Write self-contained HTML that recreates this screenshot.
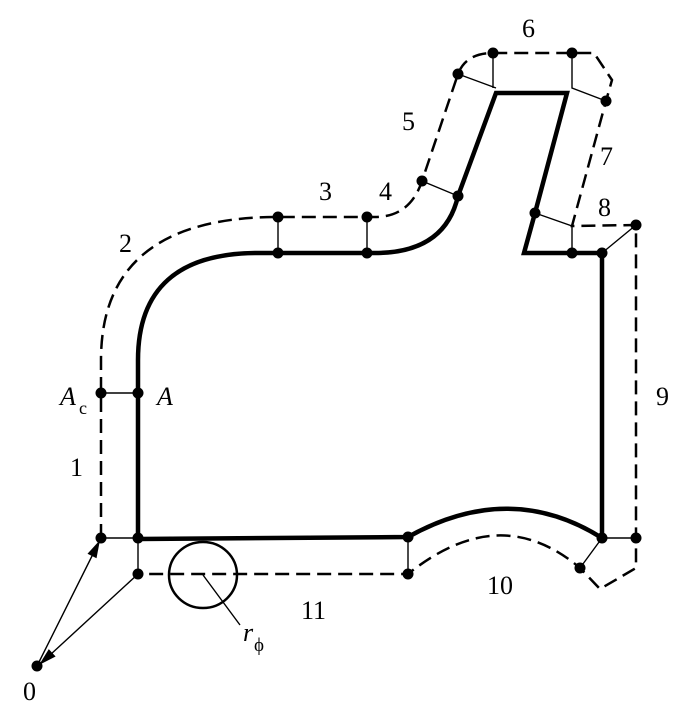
<!DOCTYPE html>
<html><head><style>html,body{margin:0;padding:0;background:#fff}svg{display:block}</style></head>
<body>
<svg width="694" height="721" viewBox="0 0 694 721" xmlns="http://www.w3.org/2000/svg" font-family="Liberation Serif, serif">
<g fill="none" stroke="#000">
<path stroke-width="4.5" d="M138,539 L138,360 Q138,253 258,253 L375,253 Q445,253 458,196 L496,93 L567,93 L535,213 L524,253 L602,253 L602,538 Q510,480 408,537 L138,539"/>
<path stroke-width="2.5" stroke-dasharray="14,7" d="M101,538 L101,393 L101,360 Q101,217 278,217 L375,217 Q410,217 422,181 L458,74 Q466,53 493,53 L594,53 L612,80 L606,101 L572,226 L636,225 L636,568 L600,589 L580,568 Q500,500 408,574 L138,574"/>
<path stroke-width="1.4" d="M101,393 L138,393 M278,217 L278,253 M367,217 L367,253 M422,181 L458,196 M458,74 L496,88 M493,53 L493,88 M572,53 L572,88 L606,101 M535,213 L572,226 L572,253 M602,253 L636,225 M602,538 L636,538 M602,538 L580,568 M101,538 L138,538 M138,538 L138,574 M408,537 L408,574 M203,575 L240,625 M37,666 L94,552 M138,574 L50,655"/>
<ellipse cx="203" cy="575" rx="34" ry="33" stroke-width="2.5"/>
</g>
<g fill="#000">
<polygon points="100,540 96.5,558.2 87.5,553.8"/>
<polygon points="39,665 55.6,656.5 48.8,649.1"/>
<circle cx="101" cy="393" r="5.5"/><circle cx="138" cy="393" r="5.5"/>
<circle cx="278" cy="217" r="5.5"/><circle cx="278" cy="253" r="5.5"/>
<circle cx="367" cy="217" r="5.5"/><circle cx="367" cy="253" r="5.5"/>
<circle cx="422" cy="181" r="5.5"/><circle cx="458" cy="196" r="5.5"/>
<circle cx="458" cy="74" r="5.5"/><circle cx="493" cy="53" r="5.5"/>
<circle cx="572" cy="53" r="5.5"/><circle cx="606" cy="101" r="5.5"/>
<circle cx="535" cy="213" r="5.5"/><circle cx="572" cy="253" r="5.5"/>
<circle cx="602" cy="253" r="5.5"/><circle cx="636" cy="225" r="5.5"/>
<circle cx="602" cy="538" r="5.5"/><circle cx="636" cy="538" r="5.5"/>
<circle cx="580" cy="568" r="5.5"/>
<circle cx="408" cy="537" r="5.5"/><circle cx="408" cy="574" r="5.5"/>
<circle cx="101" cy="538" r="5.5"/><circle cx="138" cy="538" r="5.5"/><circle cx="138" cy="574" r="5.5"/>
<circle cx="37" cy="666" r="5.5"/>
</g>
<g font-size="26" fill="#000">
<text x="522" y="37">6</text>
<text x="402" y="130">5</text>
<text x="600" y="165">7</text>
<text x="319" y="200">3</text>
<text x="379" y="200">4</text>
<text x="598" y="216">8</text>
<text x="119" y="252">2</text>
<text x="656" y="405">9</text>
<text x="70" y="476">1</text>
<text x="487" y="594">10</text>
<text x="301" y="619">11</text>
<text x="23" y="700">0</text>
<text x="60" y="405" font-style="italic">A</text><text x="79" y="414" font-size="18">c</text>
<text x="157" y="405" font-style="italic">A</text>
<text x="243" y="641" font-style="italic">r</text><text x="254" y="651" font-size="19">ϕ</text>
</g>
</svg>
</body></html>
